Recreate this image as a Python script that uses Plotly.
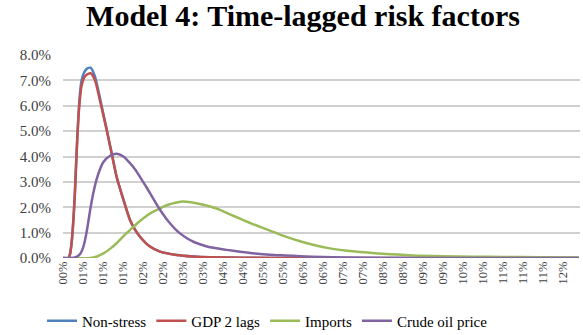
import plotly.graph_objects as go

# x positions in tick-label units (0 = first label "00%")
tick_labels = ["00%", "01%", "01%", "01%", "02%", "02%", "03%", "03%", "04%", "04%",
               "05%", "05%", "06%", "06%", "07%", "07%", "08%", "08%", "09%", "09%",
               "10%", "10%", "11%", "11%", "11%", "12%"]

x_nonstress = [0, 0.27, 0.35, 0.43, 0.52, 0.6, 0.68, 0.77, 0.85, 0.93, 1.05, 1.18, 1.38,
               1.6, 1.85, 2.18, 2.43, 2.68, 3.02, 3.35, 3.6, 3.85, 4.35, 4.85, 5.68,
               6.5, 7.35, 9.0, 12.0, 25.8]
y_nonstress = [0, 0, 0.15, 0.6, 1.5, 2.7, 4.2, 5.6, 6.5, 7.0, 7.3, 7.45, 7.5,
               7.15, 6.3, 5.08, 4.14, 3.2, 2.3, 1.5, 1.12, 0.84, 0.45, 0.25, 0.12,
               0.06, 0.03, 0.01, 0, 0]

x_gdp = [0, 0.27, 0.35, 0.43, 0.52, 0.6, 0.68, 0.77, 0.85, 0.93, 1.05, 1.18, 1.38,
         1.6, 1.85, 2.18, 2.43, 2.68, 3.02, 3.35, 3.6, 3.85, 4.35, 4.85, 5.68,
         6.5, 7.35, 9.0, 12.0, 25.8]
y_gdp = [0, 0, 0.15, 0.6, 1.5, 2.6, 4.1, 5.5, 6.3, 6.8, 7.1, 7.22, 7.28,
         7.0, 6.2, 5.06, 4.14, 3.2, 2.3, 1.5, 1.12, 0.84, 0.45, 0.25, 0.12,
         0.06, 0.03, 0.01, 0, 0]

x_imports = [0, 1.35, 1.7, 2.02, 2.35, 2.68, 3.0, 3.35, 3.7, 4.02, 4.4, 4.85, 5.25,
             5.68, 6.02, 6.4, 6.85, 7.35, 7.85, 8.35, 8.85, 9.3, 9.68, 10.35, 11.1,
             11.85, 12.6, 13.35, 14.1, 14.85, 15.6, 16.35, 17.1, 17.85, 19.0, 20.5,
             22.0, 23.85, 25.8]
y_imports = [0, 0, 0.06, 0.18, 0.36, 0.58, 0.84, 1.1, 1.36, 1.57, 1.78, 1.96, 2.1,
             2.19, 2.23, 2.2, 2.13, 2.03, 1.9, 1.72, 1.55, 1.4, 1.28, 1.08, 0.85,
             0.66, 0.5, 0.38, 0.3, 0.24, 0.19, 0.15, 0.12, 0.09, 0.07, 0.05,
             0.04, 0.03, 0.02]

x_oil = [0, 0.35, 0.6, 0.85, 1.0, 1.1, 1.22, 1.35, 1.5, 1.68, 1.85, 2.02, 2.35,
         2.68, 3.02, 3.35, 3.6, 3.85, 4.1, 4.35, 4.6, 4.85, 5.1, 5.35, 5.6, 5.85,
         6.2, 6.52, 7.0, 7.35, 8.18, 8.85, 9.6, 10.35, 11.1, 11.85, 13.0, 15.0,
         17.0, 25.8]
y_oil = [0, 0, 0.02, 0.15, 0.4, 0.7, 1.2, 1.85, 2.5, 3.1, 3.5, 3.78, 4.03,
         4.11, 4.0, 3.74, 3.5, 3.2, 2.88, 2.56, 2.22, 1.9, 1.62, 1.37, 1.15, 0.97,
         0.78, 0.64, 0.5, 0.42, 0.32, 0.25, 0.18, 0.13, 0.1, 0.07, 0.04, 0.01,
         0, 0]

y_ticks = [0, 1, 2, 3, 4, 5, 6, 7, 8]
y_tick_text = ["0.0%", "1.0%", "2.0%", "3.0%", "4.0%", "5.0%", "6.0%", "7.0%", "8.0%"]

series = [
    ("Non-stress", x_nonstress, y_nonstress, "#4F81BD"),
    ("GDP 2 lags", x_gdp, y_gdp, "#C0504D"),
    ("Imports", x_imports, y_imports, "#9BBB59"),
    ("Crude oil price", x_oil, y_oil, "#8064A2"),
]

fig = go.Figure()
for name, xs, ys, col in series:
    fig.add_trace(go.Scatter(x=xs, y=ys, name=name, mode="lines",
                             line=dict(color=col, width=2.5, shape="spline", smoothing=0.6)))

serif = "Liberation Serif, Times New Roman, serif"
fig.update_layout(
    width=583, height=335,
    margin=dict(l=63, r=3, t=55, b=77, autoexpand=False),
    paper_bgcolor="white", plot_bgcolor="white",
    title=dict(text="<b>Model 4: Time-lagged risk factors</b>",
               font=dict(family=serif, size=30, color="black"),
               xref="container", x=303 / 583, xanchor="center",
               yref="container", y=1 - 5 / 335, yanchor="top"),
    showlegend=True,
    legend=dict(orientation="h", xref="container", x=42 / 583, xanchor="left",
                yref="container", y=14 / 335, yanchor="middle",
                font=dict(family=serif, size=15, color="black"),
                itemwidth=30, tracegroupgap=0),
    xaxis=dict(range=[0, 25.85], tickmode="array", tickvals=list(range(len(tick_labels))),
               ticktext=tick_labels, tickangle=-90, showgrid=False, zeroline=False,
               showline=False, ticks="",
               tickfont=dict(family=serif, size=12.5, color="#404040")),
    yaxis=dict(range=[0, 8], tickmode="array", tickvals=y_ticks, ticktext=y_tick_text,
               showgrid=True, gridcolor="#D0D0D0", gridwidth=1.5, zeroline=False,
               showline=False, ticks="", ticklabelstandoff=11,
               tickfont=dict(family=serif, size=15, color="#404040")),
)

fig.write_html("out.html", config={"displayModeBar": False})

# remove the default 8px page margin so the figure sits at the window's top-left
with open("out.html", "r", encoding="utf-8") as f:
    html = f.read()
html = html.replace("<head>", "<head><style>html,body{margin:0;padding:0;overflow:hidden;}</style>", 1)
with open("out.html", "w", encoding="utf-8") as f:
    f.write(html)
